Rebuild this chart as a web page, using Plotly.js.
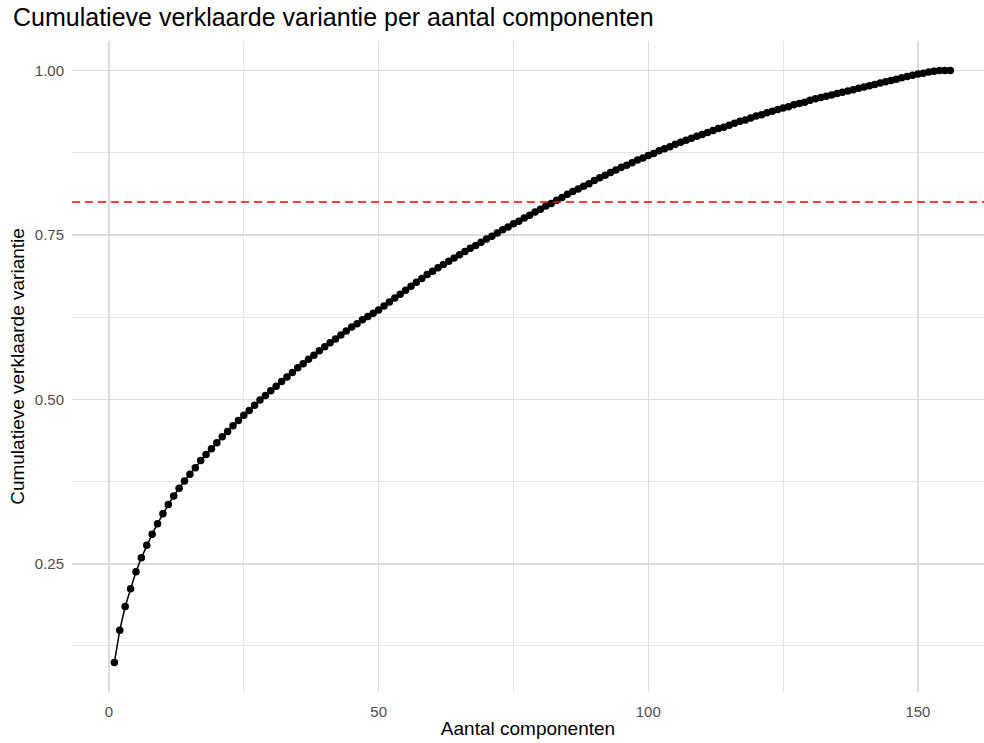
<!DOCTYPE html>
<html>
<head>
<meta charset="utf-8">
<script src="https://cdn.plot.ly/plotly-3.0.1.min.js"></script>
<style>
  html, body { margin: 0; padding: 0; background: #ffffff; }
  #chart { width: 984px; height: 743px; }
</style>
</head>
<body>
<div id="chart"></div>
<script>
// Cumulative explained variance per number of components
const cumulativeVariance = [
  0.100, 0.149, 0.185, 0.212, 0.238, 0.259, 0.278, 0.295, 0.311, 0.326,
  0.340, 0.353, 0.365, 0.376, 0.386, 0.396, 0.407, 0.416, 0.425, 0.434,
  0.443, 0.451, 0.460, 0.468, 0.476, 0.483, 0.491, 0.499, 0.506, 0.513,
  0.520, 0.527, 0.534, 0.541, 0.548, 0.554, 0.561, 0.567, 0.574, 0.580,
  0.586, 0.592, 0.598, 0.604, 0.610, 0.615, 0.621, 0.626, 0.631, 0.636,
  0.642, 0.648, 0.654, 0.660, 0.666, 0.672, 0.678, 0.684, 0.690, 0.695,
  0.700, 0.705, 0.710, 0.715, 0.720, 0.725, 0.730, 0.734, 0.739, 0.744,
  0.748, 0.753, 0.758, 0.762, 0.767, 0.771, 0.776, 0.780, 0.785, 0.789,
  0.794, 0.798, 0.803, 0.807, 0.812, 0.816, 0.820, 0.824, 0.828, 0.833,
  0.837, 0.841, 0.845, 0.849, 0.853, 0.856, 0.860, 0.864, 0.867, 0.871,
  0.874, 0.878, 0.881, 0.884, 0.888, 0.891, 0.894, 0.897, 0.900, 0.903,
  0.906, 0.909, 0.912, 0.914, 0.917, 0.920, 0.923, 0.925, 0.928, 0.931,
  0.933, 0.936, 0.938, 0.941, 0.943, 0.945, 0.948, 0.950, 0.952, 0.955,
  0.957, 0.959, 0.961, 0.963, 0.965, 0.967, 0.969, 0.971, 0.973, 0.975,
  0.977, 0.979, 0.981, 0.983, 0.985, 0.987, 0.989, 0.991, 0.993, 0.995,
  0.996, 0.998, 0.999, 1.000, 1.000, 1.000
];
const components = cumulativeVariance.map((_, i) => i + 1);
const thresholdValue = 0.80;
const yTickValues = [0.25, 0.50, 0.75, 1.00];
const yTickLabels = ["0.25", "0.50", "0.75", "1.00"];
const xTickValues = [0, 50, 100, 150];
const xTickLabels = ["0", "50", "100", "150"];

const FONT = "'Liberation Sans', Arial, Helvetica, sans-serif";
const MAJOR_GRID = "#DCDCDC";
const MINOR_GRID = "#E4E4E4";

const trace = {
  x: components,
  y: cumulativeVariance,
  type: "scatter",
  mode: "lines+markers",
  line: { color: "#000000", width: 1.5 },
  marker: { color: "#000000", size: 7.5 },
  hoverinfo: "x+y",
  showlegend: false
};

const layout = {
  width: 984,
  height: 743,
  paper_bgcolor: "#ffffff",
  plot_bgcolor: "#ffffff",
  margin: { l: 72, r: 0, t: 41, b: 51, pad: 0 },
  font: { family: FONT, color: "#000000" },
  title: {
    text: "Cumulatieve verklaarde variantie per aantal componenten",
    font: { family: FONT, size: 25, color: "#000000" },
    xref: "container", x: 13 / 984, xanchor: "left",
    yref: "container", y: 1 - 17 / 743, yanchor: "middle"
  },
  xaxis: {
    range: [-6.86, 162.25],
    tickmode: "array",
    tickvals: xTickValues,
    ticktext: xTickLabels,
    showgrid: true,
    gridcolor: MAJOR_GRID,
    gridwidth: 1.5,
    minor: { dtick: 25, tick0: 0, showgrid: true, gridcolor: MINOR_GRID, gridwidth: 1 },
    zeroline: false,
    showline: false,
    ticks: "",
    ticklabelstandoff: 9,
    tickfont: { family: FONT, size: 15, color: "#4D4D4D" },
    title: {
      text: "Aantal componenten",
      font: { family: FONT, size: 19, color: "#000000" },
      standoff: 2
    },
    automargin: false
  },
  yaxis: {
    range: [0.055, 1.045],
    tickmode: "array",
    tickvals: yTickValues,
    ticktext: yTickLabels,
    showgrid: true,
    gridcolor: MAJOR_GRID,
    gridwidth: 1.5,
    minor: { dtick: 0.125, tick0: 0, showgrid: true, gridcolor: MINOR_GRID, gridwidth: 1 },
    zeroline: false,
    showline: false,
    ticks: "",
    ticklabelstandoff: 7,
    tickfont: { family: FONT, size: 15, color: "#4D4D4D" },
    title: {
      text: "Cumulatieve verklaarde variantie",
      font: { family: FONT, size: 19, color: "#000000" },
      standoff: 5
    },
    automargin: false
  },
  shapes: [{
    type: "line",
    xref: "paper", x0: 0, x1: 1,
    yref: "y", y0: thresholdValue, y1: thresholdValue,
    line: { color: "#FF0000", width: 1.5, dash: "8px,5px" },
    layer: "above"
  }]
};

Plotly.newPlot("chart", [trace], layout, { displayModeBar: false, staticPlot: true });
</script>
</body>
</html>
